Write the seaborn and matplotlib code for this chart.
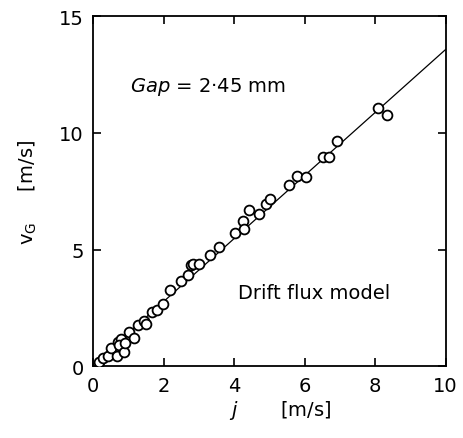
import matplotlib
matplotlib.use("Agg")
import matplotlib.pyplot as plt
import numpy as np
import pandas as pd
import seaborn as sns

# Superficial mixture velocity j and measured gas velocity v_G [m/s]
j_vals = [0.16, 0.28, 0.41, 0.50, 0.67, 0.71, 0.79, 0.74, 0.88, 0.90,
          1.02, 1.16, 1.28, 1.45, 1.50, 1.66, 1.80, 1.99, 2.18, 2.48,
          2.70, 2.76, 2.84, 3.01, 3.31, 3.57, 4.03, 4.24, 4.27, 4.43,
          4.71, 4.89, 5.01, 5.56, 5.77, 6.03, 6.51, 6.69, 6.92, 8.09,
          8.34]
vg_vals = [0.17, 0.35, 0.43, 0.78, 0.46, 1.04, 1.18, 0.90, 0.63, 1.01,
           1.47, 1.21, 1.76, 1.93, 1.80, 2.34, 2.41, 2.66, 3.28, 3.64,
           3.93, 4.33, 4.39, 4.39, 4.77, 5.13, 5.73, 6.24, 5.88, 6.70,
           6.53, 6.96, 7.15, 7.76, 8.15, 8.12, 8.99, 8.96, 9.64, 11.08,
           10.76]

# Drift flux model: v_G = C0 * j + V_Gj
C0 = 1.35
VGJ = 0.08

x_ticks = [0, 2, 4, 6, 8, 10]
y_ticks = [0, 5, 10, 15]

sns.set_theme(style="ticks")
plt.rcParams["font.family"] = ["DejaVu Sans"]
plt.rcParams["text.color"] = "black"
plt.rcParams["axes.labelcolor"] = "black"

df = pd.DataFrame({"j": j_vals, "vG": vg_vals})
line_j = np.array([0.0, 10.0])
line_df = pd.DataFrame({"j": line_j, "vG": C0 * line_j + VGJ})

fig = plt.figure(figsize=(4.63, 4.39), dpi=100)
ax = fig.add_axes([0.2015, 0.1633, 0.7611, 0.7973])

sns.lineplot(data=line_df, x="j", y="vG", ax=ax, color="black", linewidth=0.9)
sns.scatterplot(data=df, x="j", y="vG", ax=ax, marker="o", s=50,
                facecolor="white", edgecolor="black", linewidth=1.3, zorder=3)

ax.set_xlim(0, 10)
ax.set_ylim(0, 15)
ax.set_xticks(x_ticks)
ax.set_yticks(y_ticks)
ax.set_xticklabels([str(t) for t in x_ticks])
ax.set_yticklabels([str(t) for t in y_ticks])
ax.tick_params(direction="in", length=6, width=1.2, labelsize=14,
               top=True, right=True, pad=7, colors="black")
for side in ax.spines.values():
    side.set_linewidth(1.3)
    side.set_color("black")

ax.set_xlabel(r"$j$       [m/s]", fontsize=14, labelpad=4)
ax.xaxis.set_label_coords(0.53, -0.09)
ax.set_ylabel(r"v$_\mathregular{G}$     [m/s]", fontsize=14, labelpad=14)

ax.text(1.05, 12.0, r"$Gap$ = 2·45 mm", fontsize=14, va="center", ha="left")
ax.text(4.1, 3.15, "Drift flux model", fontsize=14, va="center", ha="left")

fig.savefig("out.png", dpi=100, facecolor="white")
